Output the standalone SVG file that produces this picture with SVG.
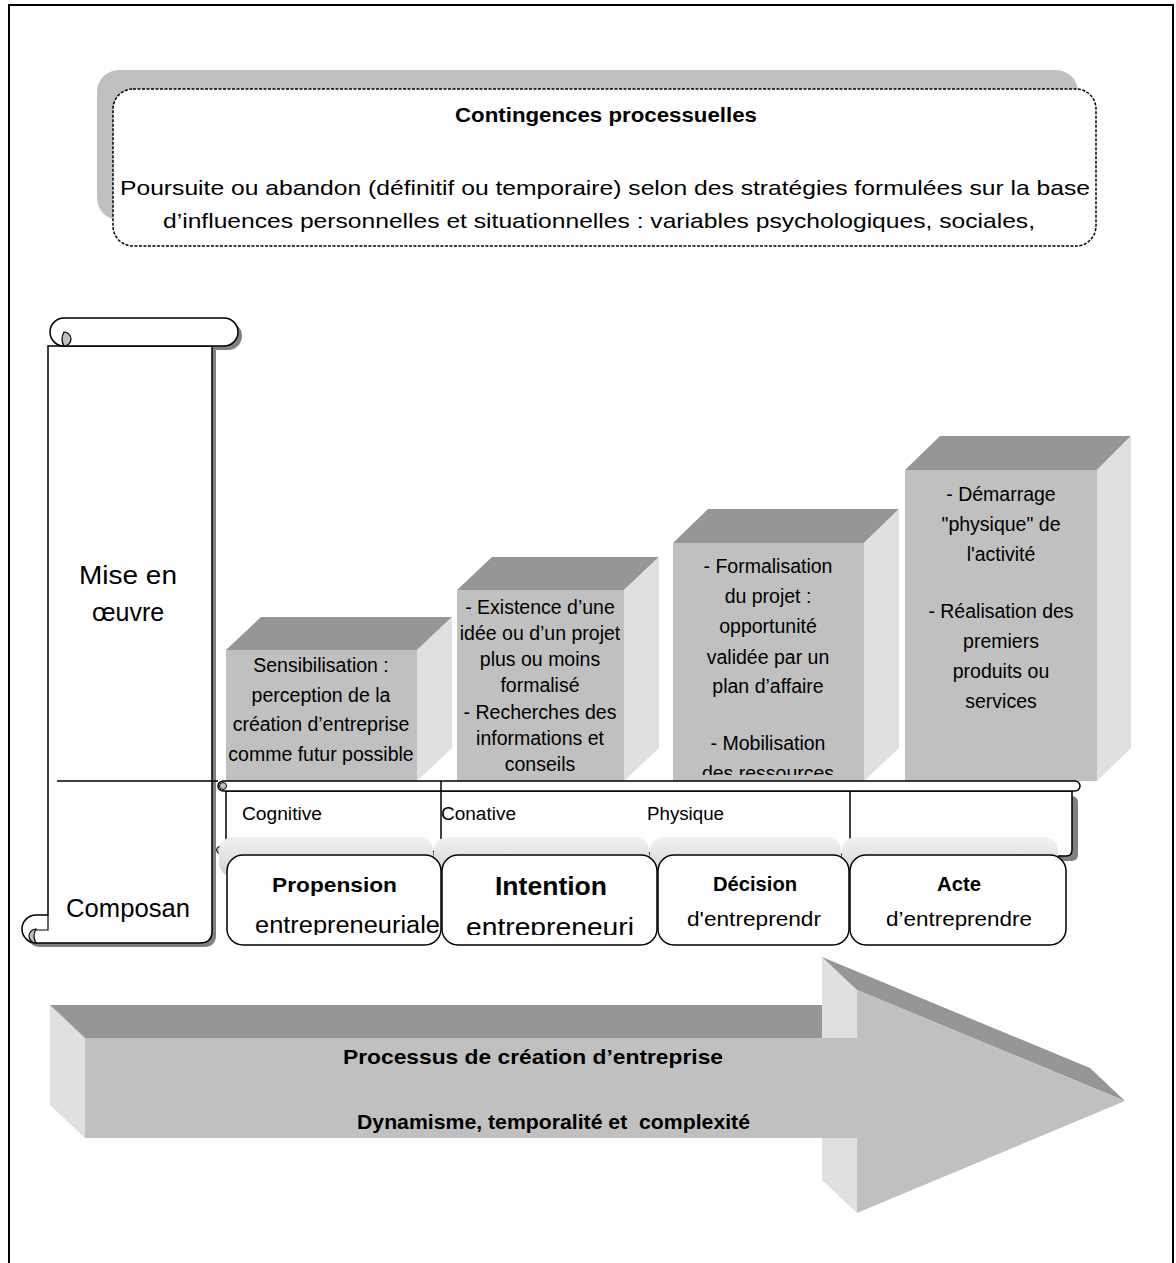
<svg xmlns="http://www.w3.org/2000/svg" width="1176" height="1263" viewBox="0 0 1176 1263">
<style>
text{font-family:"Liberation Sans",Arial,sans-serif;fill:#000}
.b{font-weight:bold}
.m{text-anchor:middle}
.front{fill:#c0c0c0}
.top{fill:#969696}
.side{fill:#e0e0e0}
.ln{fill:#fff;stroke:#000;stroke-width:1.5}
.sh{fill:#808080}
.ct{font-size:19.5px;text-anchor:middle}
.bl{font-size:18px}
</style>
<defs>
<linearGradient id="ghost" x1="0" y1="0" x2="0" y2="1">
<stop offset="0" stop-color="#f2f2f2"/>
<stop offset="1" stop-color="#d2d2d2"/>
</linearGradient>
<clipPath id="c3"><rect x="673" y="543" width="191" height="232"/></clipPath>
<clipPath id="cb"><rect x="220" y="855" width="850" height="80"/></clipPath>
</defs>
<rect x="0" y="0" width="1176" height="1263" fill="#fff"/>
<path d="M9,1270 L9,5 L1173,5 L1173,1270" fill="none" stroke="#000" stroke-width="2"/>

<g id="contingences">
<rect x="97" y="70" width="981" height="150" rx="22" fill="#c0c0c0"/>
<rect x="113" y="89" width="983" height="157" rx="20" fill="#fff" stroke="#000" stroke-width="1.5" stroke-dasharray="3,1.5"/>
<text class="b" x="455" y="122" font-size="20" textLength="302" lengthAdjust="spacingAndGlyphs">Contingences processuelles</text>
<text x="120" y="195" font-size="21" textLength="970" lengthAdjust="spacingAndGlyphs">Poursuite ou abandon (définitif ou temporaire) selon des stratégies formulées sur la base</text>
<text x="163" y="228" font-size="21" textLength="872" lengthAdjust="spacingAndGlyphs">d’influences personnelles et situationnelles : variables psychologiques, sociales,</text>
</g>

<g id="scroll">
<g transform="translate(4,4)" class="sh">
<rect x="50" y="318" width="188" height="28" rx="14"/>
<path d="M48,346 L48,915 L36,915 A14,14 0 0 0 36,943 L200,943 Q212,943 212,931 L212,346 Z"/>
</g>
<path class="ln" d="M48,346 L48,915 L36,915 A14,14 0 0 0 36,943 L200,943 Q212,943 212,931 L212,346 Z"/>
<path d="M36,929 A7,7 0 0 0 36,943 A14,14 0 0 1 36,929 Z" fill="#c0c0c0" stroke="#000" stroke-width="1.2"/>
<path d="M48,915 L48,930 L36,930" fill="none" stroke="#000" stroke-width="1.2"/>
<rect class="ln" x="50" y="318" width="188" height="28" rx="14"/>
<path d="M64,332 A7,7 0 0 1 64,346 A14,14 0 0 1 64,332 Z" fill="#c0c0c0" stroke="#000" stroke-width="1.2"/>
<line x1="57" y1="781" x2="218" y2="781" stroke="#000" stroke-width="1.5"/>
<text class="m" x="128" y="584" font-size="25" textLength="98" lengthAdjust="spacingAndGlyphs">Mise en</text>
<text class="m" x="128" y="621" font-size="25">œuvre</text>
<text class="m" x="128" y="917" font-size="25" textLength="124" lengthAdjust="spacingAndGlyphs">Composan</text>
</g>

<g id="cube1">
<polygon class="top" points="226,650 261,617 452,617 417,650"/>
<polygon class="side" points="417,650 452,617 452,748 417,781"/>
<rect class="front" x="226" y="650" width="191" height="131"/>
<text class="ct" x="321" y="672">Sensibilisation :</text>
<text class="ct" x="321" y="702">perception de la</text>
<text class="ct" x="321" y="731">création d’entreprise</text>
<text class="ct" x="321" y="761">comme futur possible</text>
</g>

<g id="cube2">
<polygon class="top" points="457,590 492,557 659,557 624,590"/>
<polygon class="side" points="624,590 659,557 659,748 624,781"/>
<rect class="front" x="457" y="590" width="167" height="191"/>
<text class="ct" x="540" y="614">- Existence d’une</text>
<text class="ct" x="540" y="640">idée ou d’un projet</text>
<text class="ct" x="540" y="666">plus ou moins</text>
<text class="ct" x="540" y="692">formalisé</text>
<text class="ct" x="540" y="719">- Recherches des</text>
<text class="ct" x="540" y="745">informations et</text>
<text class="ct" x="540" y="771">conseils</text>
</g>

<g id="cube3">
<polygon class="top" points="673,543 708,509 899,509 864,543"/>
<polygon class="side" points="864,543 899,509 899,748 864,781"/>
<rect class="front" x="673" y="543" width="191" height="238"/>
<g clip-path="url(#c3)">
<text class="ct" x="768" y="573">- Formalisation</text>
<text class="ct" x="768" y="603">du projet :</text>
<text class="ct" x="768" y="633">opportunité</text>
<text class="ct" x="768" y="664">validée par un</text>
<text class="ct" x="768" y="693">plan d’affaire</text>
<text class="ct" x="768" y="750">- Mobilisation</text>
<text class="ct" x="768" y="780">des ressources</text>
</g>
</g>

<g id="cube4">
<polygon class="top" points="905,470 940,436 1131,436 1097,470"/>
<polygon class="side" points="1097,470 1131,436 1131,748 1097,781"/>
<rect class="front" x="905" y="470" width="192" height="311"/>
<text class="ct" x="1001" y="501">- Démarrage</text>
<text class="ct" x="1001" y="531">"physique" de</text>
<text class="ct" x="1001" y="561">l'activité</text>
<text class="ct" x="1001" y="618">- Réalisation des</text>
<text class="ct" x="1001" y="648">premiers</text>
<text class="ct" x="1001" y="678">produits ou</text>
<text class="ct" x="1001" y="708">services</text>
</g>

<g id="band">
<rect class="sh" x="231" y="796" width="847" height="65" rx="6"/>
<path class="ln" d="M226,791 L226,850 L1066,856 Q1072,856 1072,850 L1072,791 Z"/>
<rect class="ln" x="218" y="781" width="862" height="10" rx="5"/>
<circle cx="223" cy="786" r="3.5" fill="#c0c0c0" stroke="#000" stroke-width="1"/>
<circle cx="220" cy="850" r="3.5" fill="#c0c0c0" stroke="#000" stroke-width="1"/>
<line x1="441" y1="781" x2="441" y2="856" stroke="#000" stroke-width="1.5"/>
<line x1="850" y1="791" x2="850" y2="856" stroke="#000" stroke-width="1.5"/>
<text class="bl" x="242" y="820" textLength="80" lengthAdjust="spacingAndGlyphs">Cognitive</text>
<text class="bl" x="441" y="820" textLength="75" lengthAdjust="spacingAndGlyphs">Conative</text>
<text class="bl" x="647" y="820" textLength="77" lengthAdjust="spacingAndGlyphs">Physique</text>
<rect x="219" y="837" width="214" height="40" rx="14" fill="url(#ghost)"/>
<rect x="434" y="837" width="215" height="40" rx="14" fill="url(#ghost)"/>
<rect x="650" y="837" width="191" height="40" rx="14" fill="url(#ghost)"/>
<rect x="842" y="837" width="216" height="40" rx="14" fill="url(#ghost)"/>
</g>

<g id="box-propension">
<rect class="ln" x="227" y="855" width="214" height="90" rx="16"/>
<text class="b" x="272" y="892" font-size="21" textLength="125" lengthAdjust="spacingAndGlyphs">Propension</text>
<text x="255" y="933" font-size="23" textLength="185" lengthAdjust="spacingAndGlyphs" clip-path="url(#cb)">entrepreneuriale</text>
</g>
<g id="box-intention">
<rect class="ln" x="442" y="855" width="215" height="90" rx="16"/>
<text class="b" x="495" y="895" font-size="25" textLength="112" lengthAdjust="spacingAndGlyphs">Intention</text>
<text x="466" y="936" font-size="25" textLength="168" lengthAdjust="spacingAndGlyphs" clip-path="url(#cb)">entrepreneuri</text>
</g>
<g id="box-decision">
<rect class="ln" x="658" y="855" width="191" height="90" rx="16"/>
<text class="b" x="713" y="891" font-size="20" textLength="84" lengthAdjust="spacingAndGlyphs">Décision</text>
<text x="687" y="926" font-size="20" textLength="134" lengthAdjust="spacingAndGlyphs">d'entreprendr</text>
</g>
<g id="box-acte">
<rect class="ln" x="850" y="855" width="216" height="90" rx="16"/>
<text class="b" x="937" y="891" font-size="20" textLength="44" lengthAdjust="spacingAndGlyphs">Acte</text>
<text x="886" y="926" font-size="20" textLength="146" lengthAdjust="spacingAndGlyphs">d’entreprendre</text>
</g>

<g id="arrow">
<polygon class="side" points="50,1005 85,1038 85,1138 50,1105"/>
<polygon class="top" points="50,1005 822,1005 857,1038 85,1038"/>
<polygon class="side" points="822,957 857,990 857,1213 822,1180"/>
<polygon class="top" points="822,957 1090,1068 1125,1101 857,990"/>
<polygon class="front" points="85,1038 857,1038 857,990 1125,1101 857,1213 857,1138 85,1138"/>
<text class="b" x="343" y="1064" font-size="21" textLength="380" lengthAdjust="spacingAndGlyphs">Processus de création d’entreprise</text>
<text class="b" x="357" y="1129" font-size="21" textLength="393" lengthAdjust="spacingAndGlyphs" xml:space="preserve">Dynamisme, temporalité et  complexité</text>
</g>
</svg>
